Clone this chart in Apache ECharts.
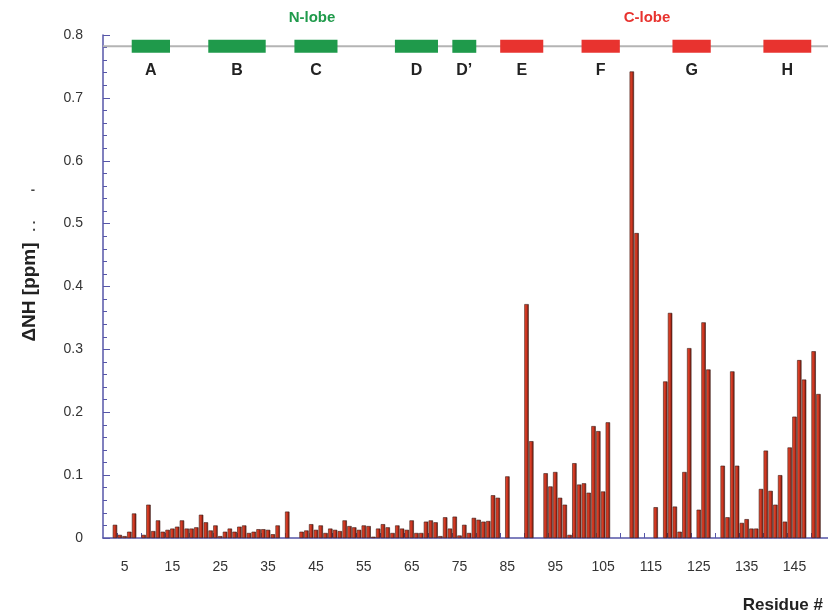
<!DOCTYPE html>
<html>
<head>
<meta charset="utf-8">
<script src="https://cdn.jsdelivr.net/npm/echarts@6/dist/echarts.min.js"></script>
<style>
html, body { margin: 0; padding: 0; background: #fff; }
#chart { width: 828px; height: 616px; }
</style>
</head>
<body>
<div id="chart"></div>
<script>
// chemical shift perturbation per residue (zero residues left out)
var residues = [3, 4, 5, 6, 7, 9, 10, 11, 12, 13, 14, 15, 16, 17, 18, 19, 20, 21, 22, 23, 24, 25, 26, 27, 28, 29, 30,
    31, 32, 33, 34, 35, 36, 37, 39, 42, 43, 44, 45, 46, 47, 48, 49, 50, 51, 52, 53, 54, 55, 56, 57, 58, 59, 60,
    61, 62, 63, 64, 65, 66, 67, 68, 69, 70, 71, 72, 73, 74, 75, 76, 77, 78, 79, 80, 81, 82, 83, 85, 89, 90,
    93, 94, 95, 96, 97, 98, 99, 100, 101, 102, 103, 104, 105, 106, 111, 112, 116, 118, 119, 120, 121, 122, 123,
    125, 126, 127, 130, 131, 132, 133, 134, 135, 136, 137, 138, 139, 140, 141, 142, 143, 144, 145, 146, 147, 149, 150];
var shifts = [0.021, 0.005, 0.003, 0.010, 0.039, 0.005, 0.053, 0.011, 0.028, 0.010, 0.013, 0.015, 0.018, 0.028, 0.015, 0.015, 0.017, 0.037, 0.025, 0.012, 0.020, 0.003, 0.010, 0.015, 0.010, 0.018, 0.020,
    0.008, 0.010, 0.014, 0.014, 0.013, 0.006, 0.020, 0.042, 0.010, 0.012, 0.022, 0.013, 0.020, 0.008, 0.015, 0.013, 0.011, 0.028, 0.019, 0.017, 0.013, 0.020, 0.019, 0.002, 0.015, 0.022, 0.017,
    0.008, 0.020, 0.015, 0.013, 0.028, 0.008, 0.008, 0.026, 0.028, 0.025, 0.003, 0.033, 0.015, 0.034, 0.004, 0.021, 0.008, 0.032, 0.029, 0.026, 0.027, 0.068, 0.064, 0.098, 0.372, 0.154,
    0.103, 0.082, 0.105, 0.064, 0.053, 0.005, 0.119, 0.085, 0.087, 0.072, 0.178, 0.170, 0.074, 0.184, 0.742, 0.485, 0.049, 0.249, 0.358, 0.050, 0.010, 0.105, 0.302,
    0.045, 0.343, 0.268, 0.115, 0.033, 0.265, 0.115, 0.024, 0.030, 0.015, 0.015, 0.078, 0.139, 0.075, 0.053, 0.100, 0.026, 0.144, 0.193, 0.283, 0.252, 0.297, 0.229];

// secondary structure (helices)
var helixNames = ['A', 'B', 'C', 'D', 'D\u2019', 'E', 'F', 'G', 'H'];
var helixStart = [7, 23, 41, 62, 74, 84, 101, 120, 139];
var helixEnd   = [14, 34, 49, 70, 78, 92, 108, 127, 148];
var helixLobe  = ['N', 'N', 'N', 'N', 'N', 'C', 'C', 'C', 'C'];

// axis ticks
var xLabelValues = [5, 15, 25, 35, 45, 55, 65, 75, 85, 95, 105, 115, 125, 135, 145];
var xTickValues = [3.5, 8.5, 13.5, 18.5, 23.5, 28.5, 33.5, 38.5, 43.5, 48.5, 53.5, 58.5, 63.5, 68.5, 73.5, 78.5,
    83.5, 88.5, 93.5, 98.5, 103.5, 108.5, 113.5, 118.5, 123.5, 128.5, 133.5, 138.5, 143.5, 148.5];

var FONT = 'Liberation Sans, Arial, sans-serif';
var AXIS_BLUE = '#5656a8';
var GREEN = '#1f9a4b';
var RED = '#e8332f';
var helixLevel = 0.782;

var barData = residues.map(function (r, i) { return [r, shifts[i]]; });
var helixData = helixNames.map(function (n, i) { return [helixStart[i], helixEnd[i], i]; });

function renderHelix(params, api) {
    var s = api.coord([api.value(0) - 0.5, helixLevel]);
    var e = api.coord([api.value(1) + 0.5, helixLevel]);
    var idx = api.value(2);
    var children = [
        { type: 'rect', shape: { x: s[0], y: s[1] - 6.5, width: e[0] - s[0], height: 13 },
          style: { fill: helixLobe[idx] === 'N' ? GREEN : RED }, z2: 10 },
        { type: 'text', x: (s[0] + e[0]) / 2, y: s[1] + 24, z2: 10,
          style: { text: helixNames[idx], fill: '#222', font: 'bold 16px ' + FONT, align: 'center', verticalAlign: 'middle' } }
    ];
    if (params.dataIndex === 0) {
        var a = api.coord([0.5, helixLevel]);
        var b = api.coord([152, helixLevel]);
        children.unshift({ type: 'line', z2: 0, shape: { x1: a[0], y1: a[1], x2: b[0], y2: b[1] },
            style: { stroke: '#b4b4b4', lineWidth: 2 } });
    }
    return { type: 'group', children: children };
}

var myChart = echarts.init(document.getElementById('chart'));
var option = {
    animation: false,
    backgroundColor: '#fff',
    grid: { left: 103, right: 0, top: 35, bottom: 78, containLabel: false },
    xAxis: {
        type: 'value',
        min: 0.5,
        max: 152,
        splitLine: { show: false },
        axisLine: { lineStyle: { color: AXIS_BLUE, width: 1.5 } },
        axisTick: { show: true, inside: true, length: 5, customValues: xTickValues, lineStyle: { color: AXIS_BLUE } },
        axisLabel: { customValues: xLabelValues, margin: 22, color: '#333', fontSize: 14, fontFamily: FONT }
    },
    yAxis: {
        type: 'value',
        min: 0,
        max: 0.8,
        interval: 0.1,
        splitLine: { show: false },
        axisLine: { show: true, lineStyle: { color: AXIS_BLUE, width: 1.5 } },
        axisTick: { show: true, inside: true, length: 7, lineStyle: { color: AXIS_BLUE } },
        minorTick: { show: true, splitNumber: 5, length: 4, lineStyle: { color: AXIS_BLUE } },
        axisLabel: { margin: 20, color: '#333', fontSize: 14, fontFamily: FONT,
            formatter: function (v) { return v === 0 ? '0' : v.toFixed(1); } }
    },
    graphic: [
        { type: 'text', x: 312, y: 18, style: { text: 'N-lobe', fill: GREEN, font: 'bold 15px ' + FONT, align: 'center', verticalAlign: 'middle' } },
        { type: 'text', x: 647, y: 18, style: { text: 'C-lobe', fill: RED, font: 'bold 15px ' + FONT, align: 'center', verticalAlign: 'middle' } },
        { type: 'text', x: 823, y: 605, style: { text: 'Residue #', fill: '#222', font: 'bold 17px ' + FONT, align: 'right', verticalAlign: 'middle' } },
        { type: 'text', x: 30, y: 292, rotation: Math.PI / 2,
          style: { text: '\u0394NH [ppm]', fill: '#222', font: 'bold 19px ' + FONT, align: 'center', verticalAlign: 'middle' } },
        { type: 'text', x: 31, y: 226, rotation: Math.PI / 2,
          style: { text: '. .', fill: '#444', font: 'bold 13px ' + FONT, align: 'center', verticalAlign: 'middle' } },
        { type: 'text', x: 33, y: 190,
          style: { text: '-', fill: '#444', font: 'bold 13px ' + FONT, align: 'center', verticalAlign: 'middle' } }
    ],
    series: [
        {
            type: 'bar',
            data: barData,
            barWidth: 4.4,
            itemStyle: {
                color: new echarts.graphic.LinearGradient(0, 0, 1, 0, [
                    { offset: 0, color: '#f0502f' },
                    { offset: 0.5, color: '#cc3420' },
                    { offset: 1, color: '#5a1a10' }
                ]),
                borderColor: '#3a1a14',
                borderWidth: 0.6
            },
            z: 2
        },
        {
            type: 'custom',
            renderItem: renderHelix,
            data: helixData,
            clip: false,
            silent: true,
            z: 3
        }
    ]
};
myChart.setOption(option);
</script>
</body>
</html>
